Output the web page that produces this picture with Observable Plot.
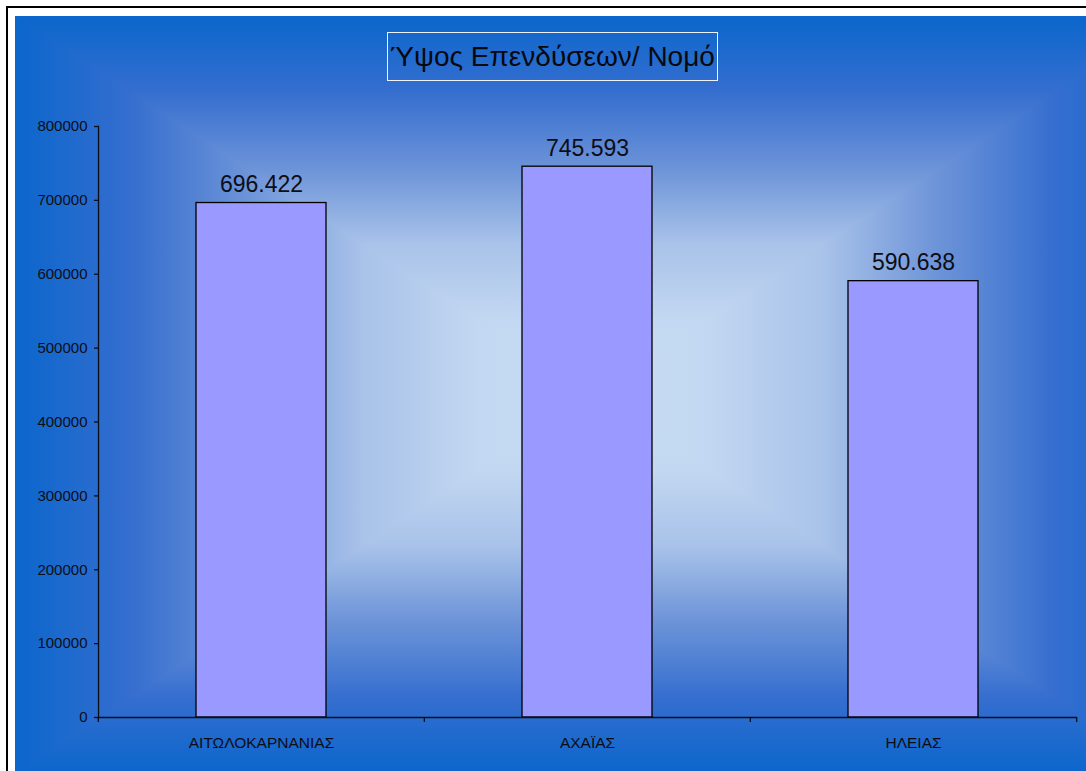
<!DOCTYPE html>
<html><head><meta charset="utf-8">
<script src="https://cdn.jsdelivr.net/npm/d3@7"></script>
<script src="https://cdn.jsdelivr.net/npm/@observablehq/plot@0.6"></script>
<style>
html,body{margin:0;padding:0;background:#fff;}
#wrap{position:relative;width:1086px;height:771px;overflow:hidden;font-family:"Liberation Sans",Arial,sans-serif;}
#border{position:absolute;left:6px;top:6px;width:1200px;height:900px;border:2px solid #000;}
#chart{position:absolute;left:0;top:0;}
#title{position:absolute;left:387px;top:32px;width:329px;height:47px;border:1px solid #eef3ff;display:flex;align-items:center;justify-content:center;font-size:28px;color:#08080f;white-space:nowrap;}
</style></head>
<body><div id="wrap"><div id="border"></div><div id="chart"></div><div id="title"></div></div>
<script>
const title = "Ύψος Επενδύσεων/ Νομό";
const categories = ["ΑΙΤΩΛΟΚΑΡΝΑΝΙΑΣ", "ΑΧΑΪΑΣ", "ΗΛΕΙΑΣ"];
const values = [696422, 745593, 590638];
const yTicks = [0, 100000, 200000, 300000, 400000, 500000, 600000, 700000, 800000];

const W = 1086, H = 771;
const mL = 98, mR = 9, mT = 126, mB = 54;
const step = (W - mL - mR) / categories.length;
const greek = d3.formatLocale({thousands: ".", grouping: [3], decimal: ",", currency: ["", "€"]});
const fmt = greek.format(",d");
const data = categories.map((c, i) => ({cat: c, value: values[i]}));
const ink = "#0d0d16";

document.getElementById("title").textContent = title;

const plot = Plot.plot({
  width: W, height: H,
  marginLeft: mL, marginRight: mR, marginTop: mT, marginBottom: mB,
  style: {background: "transparent", fontFamily: "'Liberation Sans', Arial, sans-serif", fontSize: "15px", color: ink},
  x: {domain: categories, paddingInner: 0.6, paddingOuter: 0.3, label: null},
  y: {domain: [0, 800000], label: null},
  marks: [
    Plot.barY(data, {x: "cat", y: "value", fill: "#9999FF", stroke: "#000", strokeWidth: 1.3}),
    Plot.frame({anchor: "left", stroke: ink, strokeWidth: 1.3}),
    Plot.ruleY([0], {stroke: ink, strokeWidth: 1.3}),
    Plot.axisY({ticks: yTicks, tickSize: 4, tickPadding: 7, tickFormat: d3.format("d"), fontSize: 15, stroke: ink, strokeWidth: 1.3, label: null}),
    Plot.axisX({tickSize: 0, tickPadding: 19, fontSize: 15.5, label: null}),
    Plot.axisX({tickSize: 5, tickFormat: () => "", dx: -step / 2, stroke: ink, strokeWidth: 1.3, label: null}),
    Plot.axisX({ticks: categories.slice(-1), tickSize: 5, tickFormat: () => "", dx: step / 2, stroke: ink, strokeWidth: 1.3, label: null}),
    Plot.text(data, {x: "cat", y: "value", text: d => fmt(d.value), lineAnchor: "bottom", dy: -11, fontSize: 23, fill: ink})
  ]
});

// Rectangular "from centre" gradient background (decoration only)
const svg = d3.select(plot);
const x0 = 15, y0 = 16, cx = 593, cy = 395, xR = cx + (cx - x0), yB = cy + (cy - y0);
const stops = [[0, "#0b66cc"], [0.2, "#356ecf"], [0.4, "#6c93d8"], [0.6, "#a8c2e9"], [0.8, "#c2d7f1"], [1, "#cadef4"]];
const defs = svg.insert("defs", ":first-child");
function grad(id, ax, ay, bx, by) {
  const g = defs.append("linearGradient").attr("id", id).attr("gradientUnits", "userSpaceOnUse")
    .attr("x1", ax).attr("y1", ay).attr("x2", bx).attr("y2", by);
  stops.forEach(([o, c]) => g.append("stop").attr("offset", o).attr("stop-color", c));
}
grad("gL", x0, 0, cx, 0); grad("gR", xR, 0, cx, 0); grad("gT", 0, y0, 0, cy); grad("gB", 0, yB, 0, cy);
const bg = svg.insert("g", "defs + *");
bg.append("rect").attr("x", x0).attr("y", y0).attr("width", cx - x0).attr("height", yB - y0).attr("fill", "url(#gL)");
bg.append("rect").attr("x", cx).attr("y", y0).attr("width", xR - cx).attr("height", yB - y0).attr("fill", "url(#gR)");
bg.append("polygon").attr("points", `${x0},${y0} ${xR},${y0} ${cx},${cy}`).attr("fill", "url(#gT)");
bg.append("polygon").attr("points", `${x0},${yB} ${xR},${yB} ${cx},${cy}`).attr("fill", "url(#gB)");

document.getElementById("chart").appendChild(plot);
</script>
</body></html>
